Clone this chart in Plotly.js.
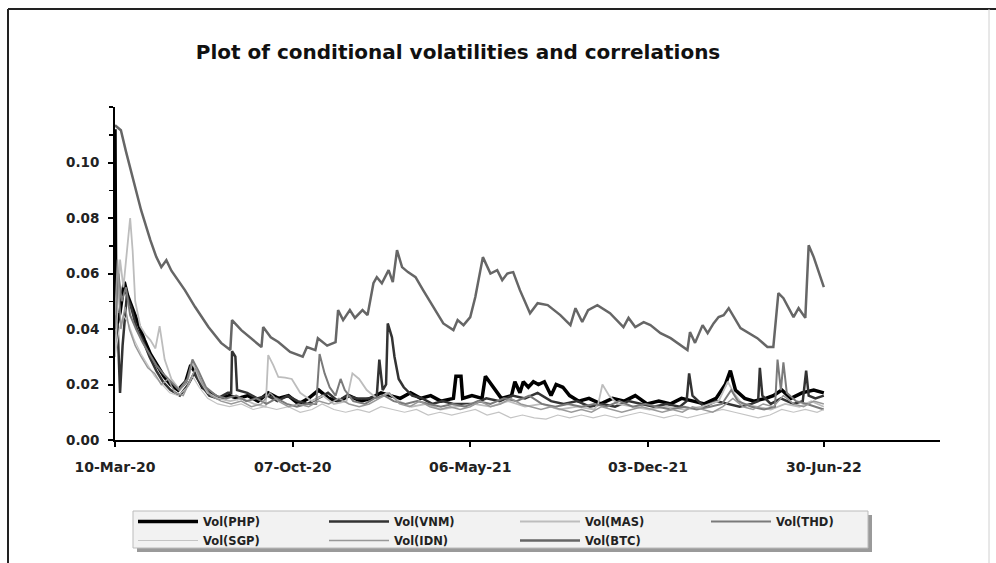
<!DOCTYPE html>
<html>
<head>
<meta charset="utf-8">
<script src="https://cdn.plot.ly/plotly-3.0.1.min.js"></script>
<style>
html,body{margin:0;padding:0;background:#fff;}
#chart{width:996px;height:563px;}
</style>
</head>
<body>
<div id="chart"></div>
<script>
// ---- data ----
const TICK_DATES = ['2020-03-10','2020-10-07','2021-05-06','2021-12-03','2022-06-30'];
const TICK_LABELS = ['10-Mar-20','07-Oct-20','06-May-21','03-Dec-21','30-Jun-22'];
const Y_TICKS = [0, 0.02, 0.04, 0.06, 0.08, 0.10];

const PHP_DATES = ['2020-03-10','2020-03-11','2020-03-16','2020-03-21','2020-03-25','2020-03-31','2020-04-07','2020-04-14','2020-04-21','2020-04-29','2020-05-07','2020-05-15','2020-05-24','2020-06-02','2020-06-08','2020-06-14','2020-06-22','2020-07-01','2020-07-12','2020-07-24','2020-08-03','2020-08-15','2020-08-27','2020-09-08','2020-09-20','2020-10-02','2020-10-14','2020-10-26','2020-11-07','2020-11-19','2020-12-01','2020-12-13','2020-12-27','2021-01-08','2021-01-20','2021-01-31','2021-02-12','2021-02-24','2021-03-08','2021-03-20','2021-04-01','2021-04-16','2021-04-19','2021-04-25','2021-04-27','2021-05-08','2021-05-20','2021-05-24','2021-06-12','2021-06-24','2021-06-28','2021-07-04','2021-07-08','2021-07-14','2021-07-20','2021-07-26','2021-08-02','2021-08-10','2021-08-16','2021-08-24','2021-09-01','2021-09-12','2021-09-24','2021-10-08','2021-10-22','2021-11-05','2021-11-18','2021-12-02','2021-12-16','2021-12-30','2022-01-12','2022-01-26','2022-02-08','2022-02-22','2022-03-05','2022-03-11','2022-03-17','2022-03-28','2022-04-08','2022-04-22','2022-05-01','2022-05-11','2022-05-22','2022-06-04','2022-06-18','2022-06-30'];
const PHP_VOL = [0.112,0.040,0.046,0.057,0.052,0.047,0.041,0.036,0.031,0.027,0.023,0.020,0.018,0.021,0.027,0.024,0.019,0.017,0.015,0.016,0.015,0.016,0.014,0.017,0.015,0.016,0.013,0.015,0.018,0.015,0.014,0.016,0.014,0.015,0.017,0.016,0.015,0.017,0.015,0.016,0.014,0.015,0.023,0.023,0.015,0.016,0.015,0.023,0.015,0.016,0.021,0.017,0.021,0.019,0.021,0.020,0.021,0.016,0.020,0.019,0.016,0.014,0.015,0.013,0.015,0.014,0.016,0.013,0.014,0.013,0.015,0.014,0.013,0.015,0.020,0.025,0.018,0.015,0.014,0.015,0.016,0.018,0.015,0.017,0.018,0.017];

const VNM_DATES = ['2020-03-10','2020-03-13','2020-03-16','2020-03-19','2020-03-24','2020-03-29','2020-04-05','2020-04-12','2020-04-20','2020-04-28','2020-05-06','2020-05-15','2020-05-26','2020-06-05','2020-06-12','2020-06-20','2020-06-30','2020-07-10','2020-07-22','2020-07-26','2020-07-27','2020-07-31','2020-08-02','2020-08-14','2020-08-26','2020-09-07','2020-09-19','2020-10-01','2020-10-13','2020-10-25','2020-11-06','2020-11-18','2020-11-30','2020-12-10','2020-12-22','2021-01-05','2021-01-15','2021-01-18','2021-01-22','2021-01-26','2021-01-28','2021-02-02','2021-02-05','2021-02-10','2021-02-16','2021-02-26','2021-03-10','2021-03-22','2021-04-03','2021-04-16','2021-05-10','2021-05-25','2021-06-10','2021-06-25','2021-07-10','2021-07-25','2021-08-10','2021-08-25','2021-09-10','2021-09-25','2021-10-10','2021-10-25','2021-11-10','2021-11-25','2021-12-10','2021-12-25','2022-01-10','2022-01-18','2022-01-21','2022-01-25','2022-02-08','2022-02-22','2022-03-08','2022-03-22','2022-04-05','2022-04-13','2022-04-15','2022-04-18','2022-04-28','2022-05-10','2022-05-25','2022-06-05','2022-06-09','2022-06-12','2022-06-20','2022-06-30'];
const VNM_VOL = [0.035,0.042,0.017,0.034,0.052,0.048,0.040,0.036,0.030,0.025,0.021,0.018,0.016,0.020,0.024,0.020,0.016,0.015,0.017,0.017,0.032,0.030,0.018,0.017,0.015,0.016,0.014,0.016,0.014,0.013,0.015,0.017,0.014,0.016,0.015,0.015,0.016,0.029,0.018,0.020,0.042,0.037,0.030,0.022,0.019,0.016,0.015,0.013,0.014,0.013,0.013,0.015,0.014,0.016,0.015,0.017,0.014,0.013,0.014,0.012,0.013,0.012,0.014,0.013,0.012,0.013,0.012,0.014,0.024,0.016,0.012,0.014,0.013,0.012,0.013,0.014,0.026,0.016,0.013,0.015,0.013,0.014,0.025,0.016,0.015,0.016];

const MAS_DATES = ['2020-03-10','2020-03-13','2020-03-16','2020-03-20','2020-03-25','2020-03-28','2020-03-31','2020-04-03','2020-04-09','2020-04-15','2020-04-21','2020-04-27','2020-05-02','2020-05-08','2020-05-16','2020-05-26','2020-06-05','2020-06-10','2020-06-18','2020-06-28','2020-07-10','2020-07-25','2020-08-08','2020-08-22','2020-09-05','2020-09-08','2020-09-14','2020-09-20','2020-09-28','2020-10-06','2020-10-16','2020-10-30','2020-11-12','2020-11-25','2020-12-10','2020-12-17','2020-12-25','2021-01-03','2021-01-15','2021-01-28','2021-02-10','2021-02-25','2021-03-15','2021-04-01','2021-04-20','2021-05-10','2021-05-30','2021-06-20','2021-07-10','2021-07-30','2021-08-20','2021-09-10','2021-09-30','2021-10-05','2021-10-10','2021-10-18','2021-10-28','2021-11-15','2021-12-05','2021-12-25','2022-01-15','2022-02-05','2022-02-25','2022-03-08','2022-03-15','2022-03-25','2022-04-10','2022-04-28','2022-05-15','2022-06-01','2022-06-15','2022-06-30'];
const MAS_VOL = [0.030,0.050,0.065,0.055,0.070,0.080,0.068,0.050,0.041,0.038,0.036,0.033,0.041,0.029,0.022,0.018,0.022,0.028,0.022,0.017,0.015,0.014,0.015,0.013,0.012,0.0306,0.027,0.0227,0.0225,0.022,0.017,0.014,0.016,0.013,0.014,0.024,0.022,0.018,0.015,0.017,0.014,0.012,0.013,0.011,0.012,0.013,0.012,0.014,0.012,0.013,0.011,0.012,0.011,0.013,0.020,0.016,0.013,0.012,0.011,0.012,0.011,0.012,0.014,0.021,0.017,0.013,0.012,0.011,0.013,0.012,0.014,0.012];

const THD_DATES = ['2020-03-10','2020-03-14','2020-03-18','2020-03-23','2020-03-28','2020-04-04','2020-04-12','2020-04-20','2020-04-28','2020-05-06','2020-05-15','2020-05-25','2020-06-04','2020-06-10','2020-06-17','2020-06-26','2020-07-08','2020-07-20','2020-08-01','2020-08-13','2020-08-25','2020-09-06','2020-09-18','2020-09-30','2020-10-12','2020-10-24','2020-11-04','2020-11-08','2020-11-14','2020-11-20','2020-11-27','2020-12-03','2020-12-08','2020-12-18','2021-01-01','2021-01-12','2021-01-24','2021-02-04','2021-02-18','2021-03-04','2021-03-18','2021-04-01','2021-04-15','2021-04-30','2021-05-15','2021-05-30','2021-06-15','2021-06-30','2021-07-15','2021-07-30','2021-08-15','2021-08-30','2021-09-15','2021-09-30','2021-10-15','2021-10-30','2021-11-15','2021-11-30','2021-12-15','2021-12-30','2022-01-15','2022-01-30','2022-02-15','2022-03-01','2022-03-12','2022-03-20','2022-04-05','2022-04-20','2022-05-03','2022-05-06','2022-05-10','2022-05-13','2022-05-17','2022-05-28','2022-06-10','2022-06-20','2022-06-30'];
const THD_VOL = [0.040,0.060,0.050,0.055,0.045,0.040,0.035,0.031,0.027,0.024,0.021,0.018,0.022,0.029,0.025,0.019,0.016,0.015,0.016,0.014,0.015,0.013,0.015,0.013,0.012,0.013,0.013,0.031,0.024,0.019,0.016,0.022,0.018,0.014,0.013,0.015,0.016,0.014,0.013,0.014,0.013,0.012,0.013,0.012,0.014,0.013,0.015,0.014,0.016,0.013,0.012,0.013,0.012,0.013,0.012,0.014,0.012,0.013,0.012,0.011,0.012,0.011,0.012,0.013,0.018,0.014,0.012,0.011,0.012,0.029,0.018,0.028,0.017,0.014,0.013,0.012,0.011];

const SGP_DATES = ['2020-03-10','2020-03-15','2020-03-20','2020-03-26','2020-04-02','2020-04-10','2020-04-18','2020-04-26','2020-05-05','2020-05-14','2020-05-24','2020-06-04','2020-06-10','2020-06-18','2020-06-28','2020-07-10','2020-07-24','2020-08-07','2020-08-21','2020-09-04','2020-09-18','2020-10-02','2020-10-16','2020-10-30','2020-11-11','2020-11-25','2020-12-09','2020-12-23','2021-01-06','2021-01-20','2021-02-03','2021-02-17','2021-03-03','2021-03-17','2021-03-31','2021-04-14','2021-04-28','2021-05-12','2021-05-26','2021-06-09','2021-06-23','2021-07-07','2021-07-21','2021-08-04','2021-08-18','2021-09-01','2021-09-15','2021-09-29','2021-10-13','2021-10-27','2021-11-10','2021-11-24','2021-12-08','2021-12-22','2022-01-05','2022-01-19','2022-02-02','2022-02-16','2022-03-02','2022-03-16','2022-03-30','2022-04-13','2022-04-27','2022-05-11','2022-05-25','2022-06-08','2022-06-22','2022-06-30'];
const SGP_VOL = [0.030,0.040,0.045,0.042,0.036,0.031,0.027,0.023,0.020,0.017,0.016,0.019,0.023,0.019,0.015,0.013,0.012,0.013,0.011,0.012,0.011,0.012,0.010,0.011,0.013,0.011,0.010,0.011,0.010,0.012,0.011,0.010,0.011,0.009,0.010,0.009,0.010,0.011,0.009,0.010,0.008,0.009,0.008,0.0075,0.009,0.008,0.009,0.008,0.009,0.008,0.009,0.010,0.009,0.008,0.009,0.008,0.009,0.010,0.011,0.010,0.009,0.008,0.009,0.011,0.010,0.011,0.010,0.011];

const IDN_DATES = ['2020-03-10','2020-03-13','2020-03-17','2020-03-22','2020-03-27','2020-04-03','2020-04-10','2020-04-18','2020-04-26','2020-05-04','2020-05-12','2020-05-20','2020-05-30','2020-06-08','2020-06-14','2020-06-22','2020-07-02','2020-07-14','2020-07-26','2020-08-07','2020-08-19','2020-08-31','2020-09-10','2020-09-20','2020-10-02','2020-10-14','2020-10-26','2020-11-07','2020-11-19','2020-12-01','2020-12-13','2020-12-25','2021-01-06','2021-01-18','2021-01-30','2021-02-11','2021-02-23','2021-03-07','2021-03-19','2021-03-31','2021-04-12','2021-04-24','2021-05-06','2021-05-18','2021-05-30','2021-06-11','2021-06-23','2021-07-05','2021-07-17','2021-07-29','2021-08-10','2021-08-22','2021-09-03','2021-09-15','2021-09-27','2021-10-09','2021-10-21','2021-11-02','2021-11-14','2021-11-26','2021-12-08','2021-12-20','2022-01-01','2022-01-13','2022-01-25','2022-02-06','2022-02-18','2022-03-02','2022-03-14','2022-03-26','2022-04-07','2022-04-19','2022-05-01','2022-05-13','2022-05-25','2022-06-06','2022-06-18','2022-06-30'];
const IDN_VOL = [0.045,0.065,0.040,0.048,0.040,0.034,0.030,0.026,0.024,0.020,0.022,0.017,0.016,0.022,0.026,0.020,0.016,0.014,0.013,0.014,0.012,0.013,0.017,0.014,0.012,0.013,0.012,0.014,0.013,0.015,0.013,0.012,0.013,0.015,0.017,0.013,0.012,0.014,0.012,0.011,0.012,0.011,0.012,0.014,0.012,0.013,0.015,0.013,0.012,0.011,0.012,0.011,0.010,0.011,0.010,0.012,0.011,0.010,0.011,0.012,0.011,0.010,0.011,0.010,0.012,0.011,0.010,0.012,0.015,0.012,0.011,0.013,0.012,0.016,0.013,0.012,0.014,0.013];

const BTC_DATES = ['2020-03-10','2020-03-17','2020-03-23','2020-03-31','2020-04-10','2020-04-21','2020-04-28','2020-05-04','2020-05-10','2020-05-16','2020-06-01','2020-06-13','2020-06-29','2020-07-14','2020-07-25','2020-07-27','2020-08-07','2020-08-31','2020-09-02','2020-09-11','2020-09-20','2020-10-04','2020-10-19','2020-10-24','2020-11-03','2020-11-06','2020-11-17','2020-11-27','2020-11-30','2020-12-06','2020-12-14','2020-12-20','2020-12-29','2021-01-04','2021-01-11','2021-01-15','2021-01-21','2021-01-29','2021-02-03','2021-02-08','2021-02-14','2021-02-21','2021-03-02','2021-03-11','2021-03-23','2021-04-04','2021-04-16','2021-04-21','2021-04-28','2021-05-06','2021-05-12','2021-05-21','2021-05-30','2021-06-07','2021-06-13','2021-06-19','2021-06-26','2021-07-04','2021-07-16','2021-07-25','2021-08-06','2021-08-21','2021-09-02','2021-09-08','2021-09-16','2021-09-23','2021-10-04','2021-10-19','2021-11-04','2021-11-10','2021-11-18','2021-11-28','2021-12-06','2021-12-18','2021-12-30','2022-01-19','2022-01-22','2022-01-28','2022-02-06','2022-02-12','2022-02-19','2022-02-25','2022-03-03','2022-03-09','2022-03-23','2022-03-31','2022-04-12','2022-04-24','2022-05-01','2022-05-07','2022-05-13','2022-05-25','2022-05-31','2022-06-08','2022-06-12','2022-06-18','2022-06-30'];
const BTC_VOL = [0.1134,0.1116,0.104,0.0947,0.0828,0.072,0.066,0.0623,0.0648,0.061,0.054,0.048,0.0407,0.035,0.0324,0.0432,0.0396,0.0335,0.0407,0.037,0.0353,0.0317,0.030,0.0335,0.0324,0.0367,0.034,0.0353,0.0468,0.0432,0.0468,0.044,0.0468,0.045,0.0565,0.0587,0.0565,0.0612,0.0569,0.0684,0.0623,0.0605,0.0587,0.054,0.048,0.042,0.0396,0.0432,0.0414,0.0443,0.0515,0.0659,0.060,0.0612,0.0576,0.060,0.0605,0.054,0.0457,0.0493,0.0486,0.045,0.0414,0.0475,0.0425,0.0468,0.0486,0.0457,0.0407,0.044,0.0407,0.0425,0.0414,0.0385,0.0367,0.0324,0.0389,0.035,0.0414,0.0385,0.042,0.0443,0.045,0.0475,0.0403,0.0389,0.0367,0.0335,0.0335,0.0529,0.0511,0.0443,0.0475,0.044,0.0702,0.0659,0.0551];

// ---- traces ----
const SERIES = [
  {name:'Vol(PHP)', x:PHP_DATES, y:PHP_VOL, color:'#000000', width:3.5},
  {name:'Vol(VNM)', x:VNM_DATES, y:VNM_VOL, color:'#333333', width:2.5},
  {name:'Vol(MAS)', x:MAS_DATES, y:MAS_VOL, color:'#bdbdbd', width:1.8},
  {name:'Vol(THD)', x:THD_DATES, y:THD_VOL, color:'#7a7a7a', width:2},
  {name:'Vol(SGP)', x:SGP_DATES, y:SGP_VOL, color:'#c4c4c4', width:1.2},
  {name:'Vol(IDN)', x:IDN_DATES, y:IDN_VOL, color:'#999999', width:1.5},
  {name:'Vol(BTC)', x:BTC_DATES, y:BTC_VOL, color:'#666666', width:2.5}
];
const traces = SERIES.map(s => ({
  type:'scatter', mode:'lines', name:s.name, x:s.x, y:s.y,
  line:{color:s.color, width:s.width}
}));

const W = 996, H = 563, L = 115, R = 56, T = 107, B = 123;
const pw = W - L - R, ph = H - T - B;
const px = v => (v - L) / pw;          // pixel -> paper x
const py = v => (H - B - v) / ph;      // pixel -> paper y
const FONT = 'DejaVu Sans, Arial, sans-serif';

const layout = {
  width:W, height:H,
  margin:{l:L, r:R, t:T, b:B, pad:0, autoexpand:false},
  paper_bgcolor:'#ffffff', plot_bgcolor:'#ffffff',
  showlegend:true,
  title:{text:'Plot of conditional volatilities and correlations',
         font:{family:FONT, size:20, color:'#111', weight:'bold'},
         xref:'container', yref:'container', x:458/W, y:1-52/H, xanchor:'center', yanchor:'middle'},
  xaxis:{type:'date', range:['2020-03-10','2022-11-15'],
         tickmode:'array', tickvals:TICK_DATES, ticktext:TICK_LABELS,
         showgrid:false, zeroline:false, showline:true, linecolor:'#000', linewidth:2,
         ticks:'outside', ticklen:5, tickwidth:2, tickcolor:'#000', ticklabelstandoff:8,
         tickfont:{family:FONT, size:14, color:'#222', weight:'bold'}},
  yaxis:{range:[0,0.12], tickmode:'array', tickvals:Y_TICKS, tickformat:'.2f',
         showgrid:false, zeroline:false, showline:true, linecolor:'#000', linewidth:2,
         ticks:'outside', ticklen:5, tickwidth:2, tickcolor:'#000', ticklabelstandoff:6,
         minor:{tickmode:'linear', tick0:0, dtick:0.01, ticks:'outside', ticklen:4, tickcolor:'#000', tickwidth:1.5},
         tickfont:{family:FONT, size:13.5, color:'#222', weight:'bold'}},
  legend:{orientation:'h', x:px(133), y:py(507), xanchor:'left', yanchor:'top',
          bgcolor:'rgba(0,0,0,0)', borderwidth:0, entrywidth:116, entrywidthmode:'pixels',
          itemwidth:60, traceorder:'normal', tracegroupgap:0,
          font:{family:FONT, size:11.5, color:'#222', weight:'bold'}},
  shapes:[
    // legend shadow and box
    {type:'rect', xref:'paper', yref:'paper', x0:px(137), x1:px(872), y0:py(515), y1:py(552), fillcolor:'#9a9a9a', line:{width:0}, layer:'above'},
    {type:'rect', xref:'paper', yref:'paper', x0:px(133), x1:px(868), y0:py(511), y1:py(548), fillcolor:'#f2f2f2', line:{color:'#bbbbbb', width:1}, layer:'above'},
    // outer frame
    {type:'line', xref:'paper', yref:'paper', x0:px(8), x1:px(8), y0:py(9), y1:py(563), line:{color:'#222', width:2}},
    {type:'line', xref:'paper', yref:'paper', x0:px(8), x1:px(996), y0:py(9), y1:py(9), line:{color:'#222', width:2}},
    {type:'line', xref:'paper', yref:'paper', x0:px(989), x1:px(989), y0:py(9), y1:py(563), line:{color:'#d0d0d0', width:1}}
  ],
  hovermode:false
};

Plotly.newPlot('chart', traces, layout, {staticPlot:true, displayModeBar:false});
</script>
</body>
</html>
